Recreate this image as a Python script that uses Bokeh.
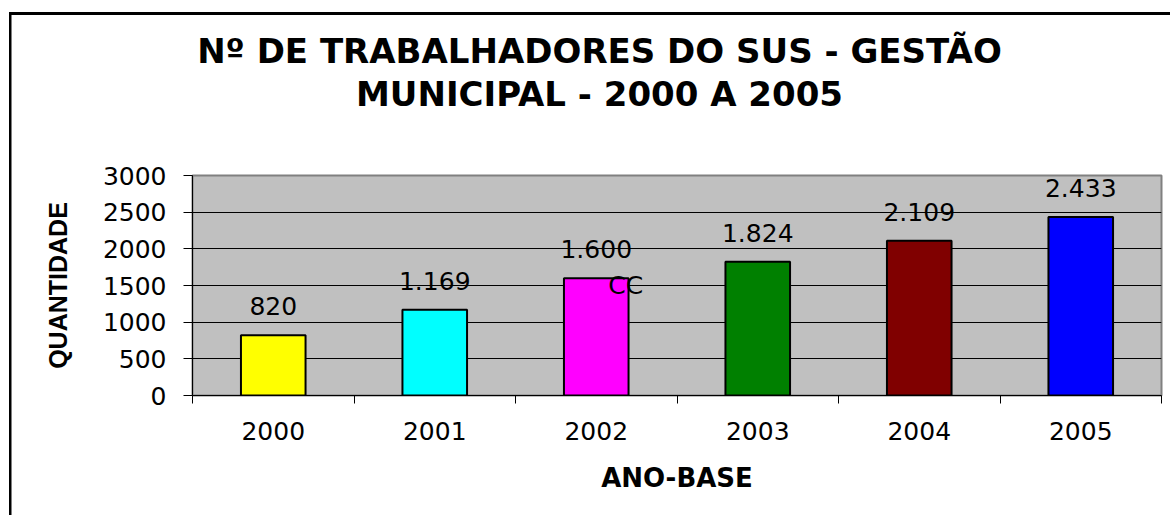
from bokeh.plotting import figure
from bokeh.models import Range1d, FixedTicker
from bokeh.layouts import column
from bokeh.core.properties import value
from bokeh.embed import file_html
from bokeh.resources import INLINE

# ---- data ----
years = ["2000", "2001", "2002", "2003", "2004", "2005"]
workers = [820, 1169, 1600, 1824, 2109, 2433]
bar_colors = ["#FFFF00", "#00FFFF", "#FF00FF", "#008000", "#800000", "#0000FF"]
y_ticks = [0, 500, 1000, 1500, 2000, 2500, 3000]
stray_text = "CC"

title_lines = ["Nº DE TRABALHADORES DO SUS - GESTÃO", "MUNICIPAL - 2000 A 2005"]

idx = list(range(len(years)))
value_labels = [f"{v:,}".replace(",", ".") for v in workers]

W = 1170
TITLE_H = 160
MAIN_H = 355
FRAME_L, FRAME_R = 192, 1161

# ---- title strip (pixel-like coordinates, y downwards) ----
t = figure(width=W, height=TITLE_H, output_backend="svg", toolbar_location=None,
           x_range=Range1d(FRAME_L, FRAME_R), y_range=Range1d(TITLE_H, 0),
           min_border_left=FRAME_L, min_border_right=W - FRAME_R,
           min_border_top=0, min_border_bottom=0,
           x_axis_type=None, y_axis_type=None)
t.grid.grid_line_color = None
t.outline_line_color = None
t.background_fill_color = None
t.border_fill_color = None
t.text(x=[599, 599], y=[50.5, 93.5], text=title_lines, text_align="center",
       text_baseline="alphabetic", text_font=value("DejaVu Sans"), text_font_size="34px",
       text_font_style="bold", text_color="black")

# ---- main chart ----
p = figure(width=W, height=MAIN_H, output_backend="svg", toolbar_location=None,
           x_range=Range1d(-0.5, len(years) - 0.5), y_range=Range1d(0, 3000),
           min_border_left=FRAME_L, min_border_right=W - FRAME_R, min_border_top=15,
           min_border_bottom=MAIN_H - (395 - TITLE_H))

p.background_fill_color = "#C0C0C0"
p.border_fill_color = None
p.outline_line_color = "#808080"
p.outline_line_width = 2

# grid
p.xgrid.grid_line_color = None
p.ygrid.grid_line_color = "black"
p.ygrid.grid_line_width = 1

# bars
p.vbar(x=idx, top=workers, width=0.4, fill_color=bar_colors, line_color="black", line_width=2)

# value labels
p.text(x=idx, y=workers, text=value_labels, text_align="center", text_baseline="alphabetic",
       y_offset=-29, text_font=value("DejaVu Sans"), text_font_size="25px", text_color="black")

# stray text near third bar
p.text(x=[idx[2]], y=[workers[2]], text=[stray_text], text_align="left", text_baseline="top",
       x_offset=12, y_offset=-7, text_font=value("DejaVu Sans"), text_font_size="25px",
       text_color="black")

# y axis
ya = p.yaxis[0]
ya.ticker = FixedTicker(ticks=y_ticks)
ya.major_tick_out = 9
ya.major_tick_in = 0
ya.minor_tick_out = 0
ya.minor_tick_in = 0
ya.axis_line_color = "black"
ya.major_tick_line_color = "black"
ya.major_label_standoff = 17
ya.major_label_text_font = "DejaVu Sans"
ya.major_label_text_font_size = "25px"
ya.major_label_text_color = "black"
ya.axis_label = "QUANTIDADE"
ya.axis_label_text_font = "Liberation Sans"
ya.axis_label_text_font_size = "25px"
ya.axis_label_text_font_style = "bold"
ya.axis_label_text_color = "black"
ya.axis_label_standoff = 28

# x axis
xa = p.xaxis[0]
xa.ticker = FixedTicker(ticks=idx, minor_ticks=[i - 0.5 for i in range(len(years) + 1)])
xa.major_label_overrides = {i: y for i, y in zip(idx, years)}
xa.major_tick_out = 0
xa.major_tick_in = 0
xa.minor_tick_out = 8
xa.minor_tick_in = 0
xa.minor_tick_line_color = "black"
xa.axis_line_color = "black"
xa.major_label_standoff = 18
xa.major_label_text_font = "DejaVu Sans"
xa.major_label_text_font_size = "25px"
xa.major_label_text_color = "black"
xa.axis_label = "ANO-BASE"
xa.axis_label_text_font = "DejaVu Sans"
xa.axis_label_text_font_size = "26px"
xa.axis_label_text_font_style = "bold"
xa.axis_label_text_color = "black"
xa.axis_label_standoff = 20

layout = column(t, p, spacing=0)
# outer chart border: only its top and left edges are visible in the reference
layout.styles = {
    "background-color": "white",
    "box-shadow": ("inset 0 12px 0 0 white, inset 9px 0 0 0 white, "
                   "inset 0 15px 0 0 black, inset 11.5px 0 0 0 black"),
}

open("out.html", "w").write(file_html(layout, INLINE))
